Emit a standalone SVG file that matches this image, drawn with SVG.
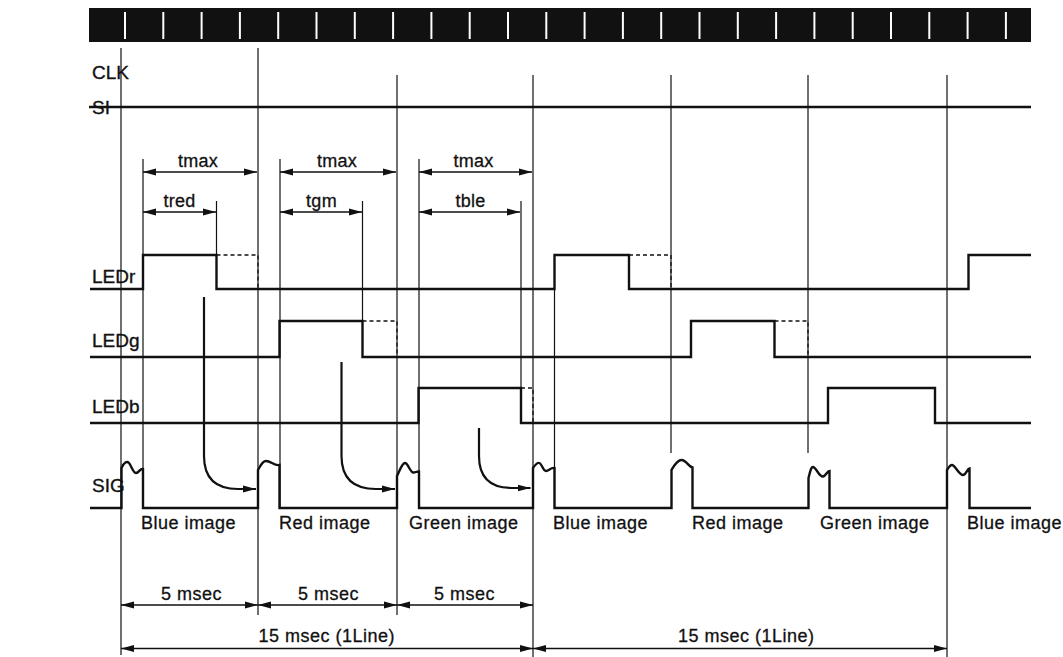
<svg xmlns="http://www.w3.org/2000/svg" width="1063" height="657" viewBox="0 0 1063 657">
<style>
.lbl{font-family:"Liberation Sans",Arial,sans-serif;font-size:19px;fill:#111;stroke:#111;stroke-width:0.35}
.txt{font-family:"Liberation Sans",Arial,sans-serif;font-size:18px;fill:#111;letter-spacing:0.5px;stroke:#111;stroke-width:0.3}
.dim{font-family:"Liberation Sans",Arial,sans-serif;font-size:18px;fill:#111;text-anchor:middle;letter-spacing:0.3px;stroke:#111;stroke-width:0.3}
.sig{fill:none;stroke:#111;stroke-width:2.4;stroke-linejoin:miter}
.guide{fill:none;stroke:#111;stroke-width:1.2}
.dash{fill:none;stroke:#111;stroke-width:1.3;stroke-dasharray:4 3}
.arr{fill:none;stroke:#111;stroke-width:1.6;marker-end:url(#ah);marker-start:url(#ah)}
.carr{fill:none;stroke:#111;stroke-width:2.2;marker-end:url(#ah)}
.tick{stroke:#fff;stroke-width:2}
</style>
<defs>
<marker id="ah" markerUnits="userSpaceOnUse" markerWidth="14" markerHeight="8" refX="13" refY="4" orient="auto-start-reverse">
<path d="M0,0.5 L13,4 L0,7.5 z" fill="#111"/>
</marker>
</defs>
<rect width="1063" height="657" fill="#fff"/>

<g id="clock-bar">
<rect x="89" y="8" width="942" height="34" fill="#111"/>
<g class="tick">
<line x1="125" y1="12" x2="125" y2="39"/><line x1="163.3" y1="12" x2="163.3" y2="39"/><line x1="201.6" y1="12" x2="201.6" y2="39"/><line x1="239.9" y1="12" x2="239.9" y2="39"/>
<line x1="278.2" y1="12" x2="278.2" y2="39"/><line x1="316.5" y1="12" x2="316.5" y2="39"/><line x1="354.8" y1="12" x2="354.8" y2="39"/><line x1="393.1" y1="12" x2="393.1" y2="39"/>
<line x1="431.4" y1="12" x2="431.4" y2="39"/><line x1="469.7" y1="12" x2="469.7" y2="39"/><line x1="508" y1="12" x2="508" y2="39"/><line x1="546.3" y1="12" x2="546.3" y2="39"/>
<line x1="584.6" y1="12" x2="584.6" y2="39"/><line x1="622.9" y1="12" x2="622.9" y2="39"/><line x1="661.2" y1="12" x2="661.2" y2="39"/><line x1="699.5" y1="12" x2="699.5" y2="39"/>
<line x1="737.8" y1="12" x2="737.8" y2="39"/><line x1="776.1" y1="12" x2="776.1" y2="39"/><line x1="814.4" y1="12" x2="814.4" y2="39"/><line x1="852.7" y1="12" x2="852.7" y2="39"/>
<line x1="891" y1="12" x2="891" y2="39"/><line x1="929.3" y1="12" x2="929.3" y2="39"/><line x1="967.6" y1="12" x2="967.6" y2="39"/><line x1="1005.9" y1="12" x2="1005.9" y2="39"/>
</g>
</g>

<g id="labels">
<text class="lbl" x="92" y="79">CLK</text>
<text class="lbl" x="92" y="114">SI</text>
<text class="lbl" x="92" y="283">LEDr</text>
<text class="lbl" x="92" y="347">LEDg</text>
<text class="lbl" x="92" y="413">LEDb</text>
<text class="lbl" x="92" y="492">SIG</text>
</g>

<g id="guides">
<line class="guide" x1="121" y1="48" x2="121" y2="655"/>
<line class="guide" x1="258" y1="48" x2="258" y2="615"/>
<line class="guide" x1="397" y1="75" x2="397" y2="615"/>
<line class="guide" x1="533" y1="75" x2="533" y2="657"/>
<line class="guide" x1="671" y1="75" x2="671" y2="453"/>
<line class="guide" x1="808" y1="75" x2="808" y2="453"/>
<line class="guide" x1="947" y1="75" x2="947" y2="657"/>
<line class="guide" x1="143" y1="159" x2="143" y2="508"/>
<line class="guide" x1="216.5" y1="201" x2="216.5" y2="255"/>
<line class="guide" x1="280" y1="159" x2="280" y2="508"/>
<line class="guide" x1="362.5" y1="201" x2="362.5" y2="321"/>
<line class="guide" x1="419" y1="159" x2="419" y2="508"/>
<line class="guide" x1="521" y1="201" x2="521" y2="388"/>
<line class="guide" x1="554.5" y1="289" x2="554.5" y2="508"/>
</g>

<g id="SI">
<path class="sig" d="M89,107 H1031"/>
</g>

<g id="LEDr">
<path class="sig" d="M90,289 H143 V255 H216.5 V289 H554.5 V255 H629 V289 H968.5 V255 H1031"/>
<path class="dash" d="M216.5,255 H258 V289"/>
<path class="dash" d="M629,255 H671 V289"/>
</g>

<g id="LEDg">
<path class="sig" d="M90,357 H279.5 V321 H362.5 V357 H691 V321 H774.5 V357 H1031"/>
<path class="dash" d="M362.5,321 H397 V357"/>
<path class="dash" d="M774.5,321 H808 V357"/>
</g>

<g id="LEDb">
<path class="sig" d="M90,423 H418.5 V388 H521 V423 H828 V388 H935 V423 H1031"/>
<path class="dash" d="M521,388 H533 V423"/>
</g>

<g id="SIG">
<path class="sig" d="M90,508 H121.5 V468 C124,462 127,461 129,463 C131,465 133,473 136,473 C139,473 140,468 143,469 V508 H258 V470 C260,467 262,461 266,461 C271,461 274,466 279.5,465 V508 H397 V476 C400,470 402,463 405,463 C408,463 410,472 413,472.5 C415,473 417,471 419,471.5 V508 H533 V468 C535,465 537,462 539.5,463 C542,464 543,471 546,471 C549,471 551,467 554.5,468 V508 H671.5 V470 C674,466 677,460 681.5,460 C686,460 689,467 692.5,467.5 V508 H808.5 V478 C810,472 811,467 813,467 C816,467 819,477 823,476.5 C826,476 827,471 829.5,471 V508 H947 V470 C949,467 950,465 952,465 C955,465 959,475 963,475 C966,475 967,469 969.5,468.5 V508 H1031"/>
</g>

<g id="connectors">
<line class="arr" x1="143" y1="172" x2="257" y2="172"/>
<line class="arr" x1="280" y1="172" x2="396" y2="172"/>
<line class="arr" x1="419" y1="172" x2="532" y2="172"/>
<line class="arr" x1="143" y1="212" x2="216" y2="212"/>
<line class="arr" x1="280" y1="212" x2="362" y2="212"/>
<line class="arr" x1="419" y1="212" x2="520" y2="212"/>
<path class="carr" d="M204,297 V456 Q204,489 238,489 H256"/>
<path class="carr" d="M341.5,362 V456 Q341.5,489 376,489 H395"/>
<path class="carr" d="M479,428 V456 Q479,488 512,488 H530.5"/>
<line class="arr" x1="121" y1="605" x2="258" y2="605"/>
<line class="arr" x1="258" y1="605" x2="397" y2="605"/>
<line class="arr" x1="397" y1="605" x2="533" y2="605"/>
<line class="arr" x1="121" y1="648.5" x2="533" y2="648.5"/>
<line class="arr" x1="533" y1="648.5" x2="947" y2="648.5"/>
</g>

<g id="dim-labels">
<text class="dim" x="198" y="167">tmax</text>
<text class="dim" x="337" y="167">tmax</text>
<text class="dim" x="473.5" y="167">tmax</text>
<text class="dim" x="179.5" y="207">tred</text>
<text class="dim" x="321.5" y="207">tgm</text>
<text class="dim" x="470.5" y="207">tble</text>
<text class="txt" x="161" y="599.5">5 msec</text>
<text class="txt" x="298" y="599.5">5 msec</text>
<text class="txt" x="434" y="599.5">5 msec</text>
<text class="txt" x="258.5" y="642">15 msec (1Line)</text>
<text class="txt" x="678" y="642">15 msec (1Line)</text>
</g>

<g id="image-labels">
<text class="txt" x="141" y="529">Blue image</text>
<text class="txt" x="279" y="529">Red image</text>
<text class="txt" x="409" y="529">Green image</text>
<text class="txt" x="553" y="529">Blue image</text>
<text class="txt" x="692" y="529">Red image</text>
<text class="txt" x="820" y="529">Green image</text>
<text class="txt" x="967" y="529">Blue image</text>
</g>
</svg>
